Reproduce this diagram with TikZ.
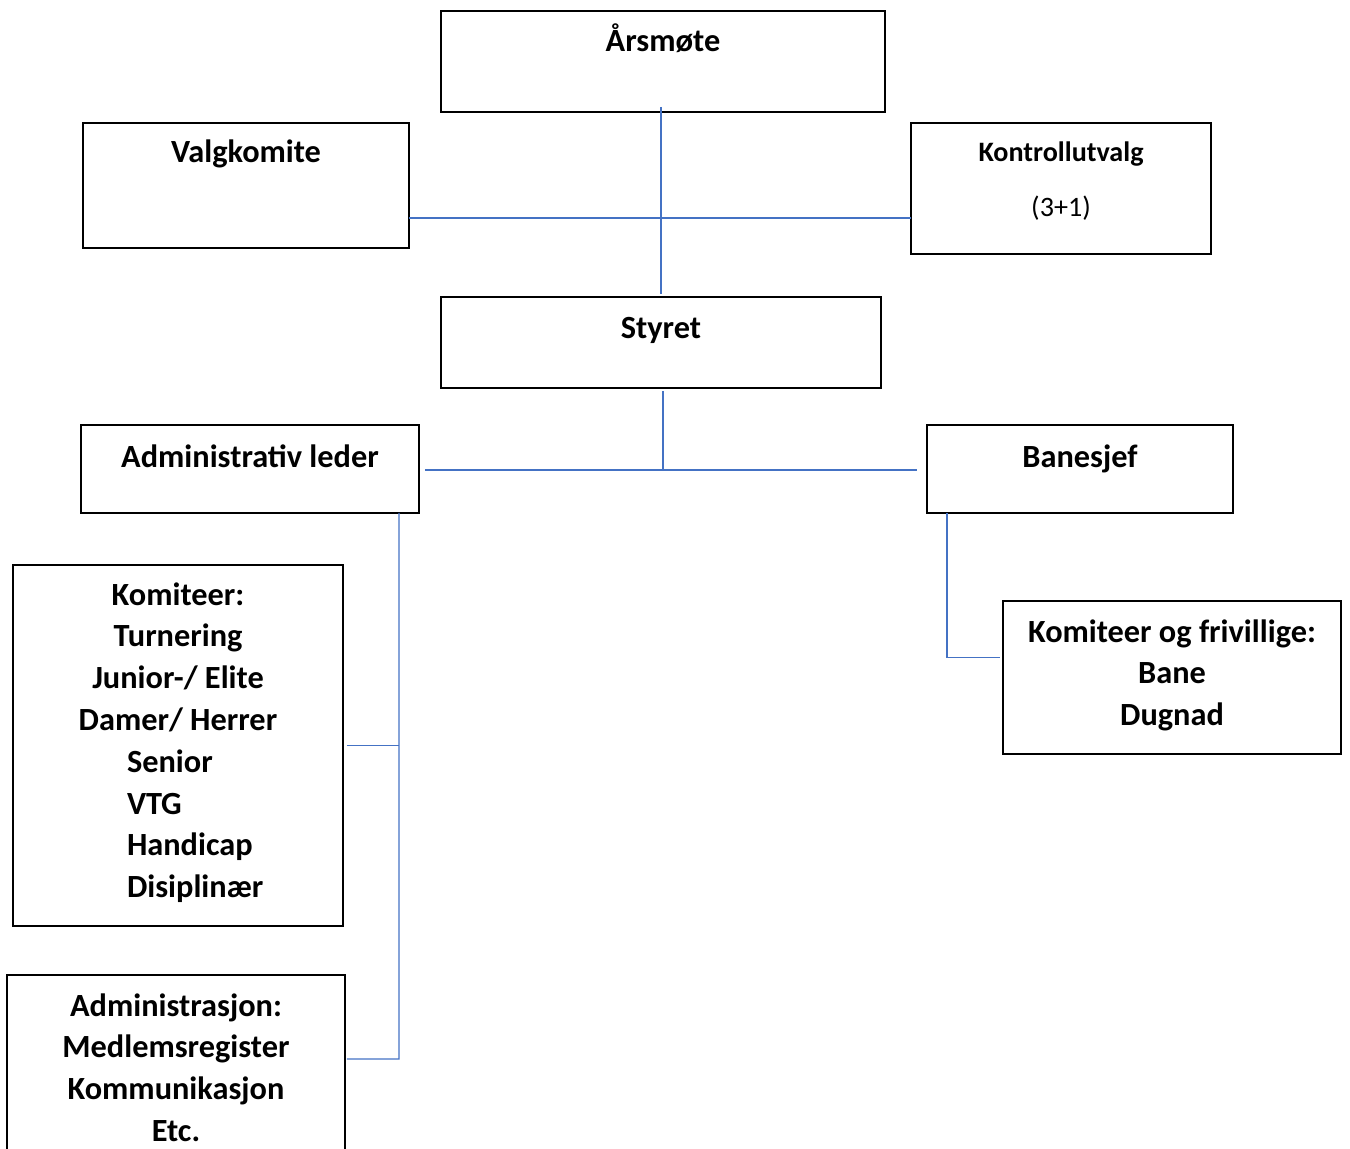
\documentclass[tikz,border=0pt]{standalone}
\usepackage{fontspec}
\setmainfont{Carlito}
\definecolor{linkblue}{HTML}{4472C4}

\begin{document}
\begin{tikzpicture}[
  x=0.02cm, y=-0.02cm,
  box/.style     = {draw, line width=1.1pt, inner sep=0pt, outer sep=0pt},
  link/.style    = {draw=linkblue, line width=0.8pt},
  title/.style   = {anchor=base, inner sep=0pt, align=flush center,
                    font=\bfseries\fontsize{18.4}{23.8}\selectfont},
  small/.style   = {anchor=base, inner sep=0pt, align=flush center,
                    font=\bfseries\fontsize{16}{31.2}\selectfont},
                     % the control committee is set one size down
]
  \useasboundingbox (0,0) rectangle (1350,1149);
  \clip (0,0) rectangle (1350,1149);

  % the boxes
  \node[box, minimum width=8.88cm, minimum height=2.02cm] (ares)       at (663,61.5)  {};
  \node[box, minimum width=6.52cm, minimum height=2.5cm]  (valg)       at (246,185.5) {};
  \node[box, minimum width=6.0cm,  minimum height=2.62cm] (kontroll)   at (1061,188.5) {};
  \node[box, minimum width=8.8cm,  minimum height=1.82cm] (styret)     at (661,342.5) {};
  \node[box, minimum width=6.76cm, minimum height=1.76cm] (admleder)   at (250,469)   {};
  \node[box, minimum width=6.12cm, minimum height=1.76cm] (banesjef)   at (1080,469)  {};
  \node[box, minimum width=6.6cm,  minimum height=7.22cm] (komiteer)   at (178,745.5) {};
  \node[box, minimum width=6.76cm, minimum height=4.0cm]  (adm)        at (176,1075)  {};
  \node[box, minimum width=6.76cm, minimum height=3.06cm] (frivillige) at (1172,677.5) {};

  % the texts, each at its first baseline (text width keeps the base on line one)
  \node[title] (t_ares)     at (663,52)  {Årsmøte};
  \node[title] (t_valg)     at (246,163) {Valgkomite};
  \node[small, text width=6.0cm] (t_kontroll) at (1061,162) {Kontrollutvalg\\{\mdseries (3+1)}};
  \node[title] (t_styret)   at (661,338) {Styret};
  \node[title] (t_admleder) at (250,467) {Administrativ leder};
  \node[title] (t_banesjef) at (1080,467) {Banesjef};
  \node[title, text width=6.6cm] (t_komiteer) at (178,605)
    {Komiteer:\\Turnering\\Junior-/ Elite\\Damer/ Herrer\\
     \hspace*{2.28cm}Senior\hfill\null\\
     \hspace*{2.28cm}VTG\hfill\null\\
     \hspace*{2.28cm}Handicap\hfill\null\\
     \hspace*{2.28cm}Disiplinær\hfill\null};
  \node[title, text width=6.76cm] (t_adm) at (176,1016)
    {Administrasjon:\\Medlemsregister\\Kommunikasjon\\Etc.};
  \node[title, text width=6.76cm] (t_frivillige) at (1172,642)
    {Komiteer og frivillige:\\Bane\\Dugnad};

  % junctions on the two cross lines and the left trunk
  \coordinate (top)   at (661,218);
  \coordinate (mid)   at (663,470);
  \coordinate (trunk) at (399,1059);

  \draw[link] ([yshift=0.1cm]ares.south -| styret) -- ([yshift=0.06cm]styret.north);
  \draw[link] (valg.east |- top) -- (kontroll.west |- top);
  \draw[link] ([yshift=-0.06cm]styret.south -| mid) -- (mid);
  \draw[link] ([xshift=0.12cm]admleder.east |- mid) -- ([xshift=-0.2cm]banesjef.west |- mid);
  \draw[link] ([xshift=0.4cm]banesjef.south west) |- ([shift={(-0.06cm,0.4cm)}]frivillige.west);
  \draw[link] ([xshift=-0.4cm]admleder.south east) -- (trunk) -- ([xshift=0.04cm]adm.east |- trunk);
  \draw[link] ([xshift=0.08cm]komiteer.east) -- (komiteer.east -| trunk);
\end{tikzpicture}
\end{document}
